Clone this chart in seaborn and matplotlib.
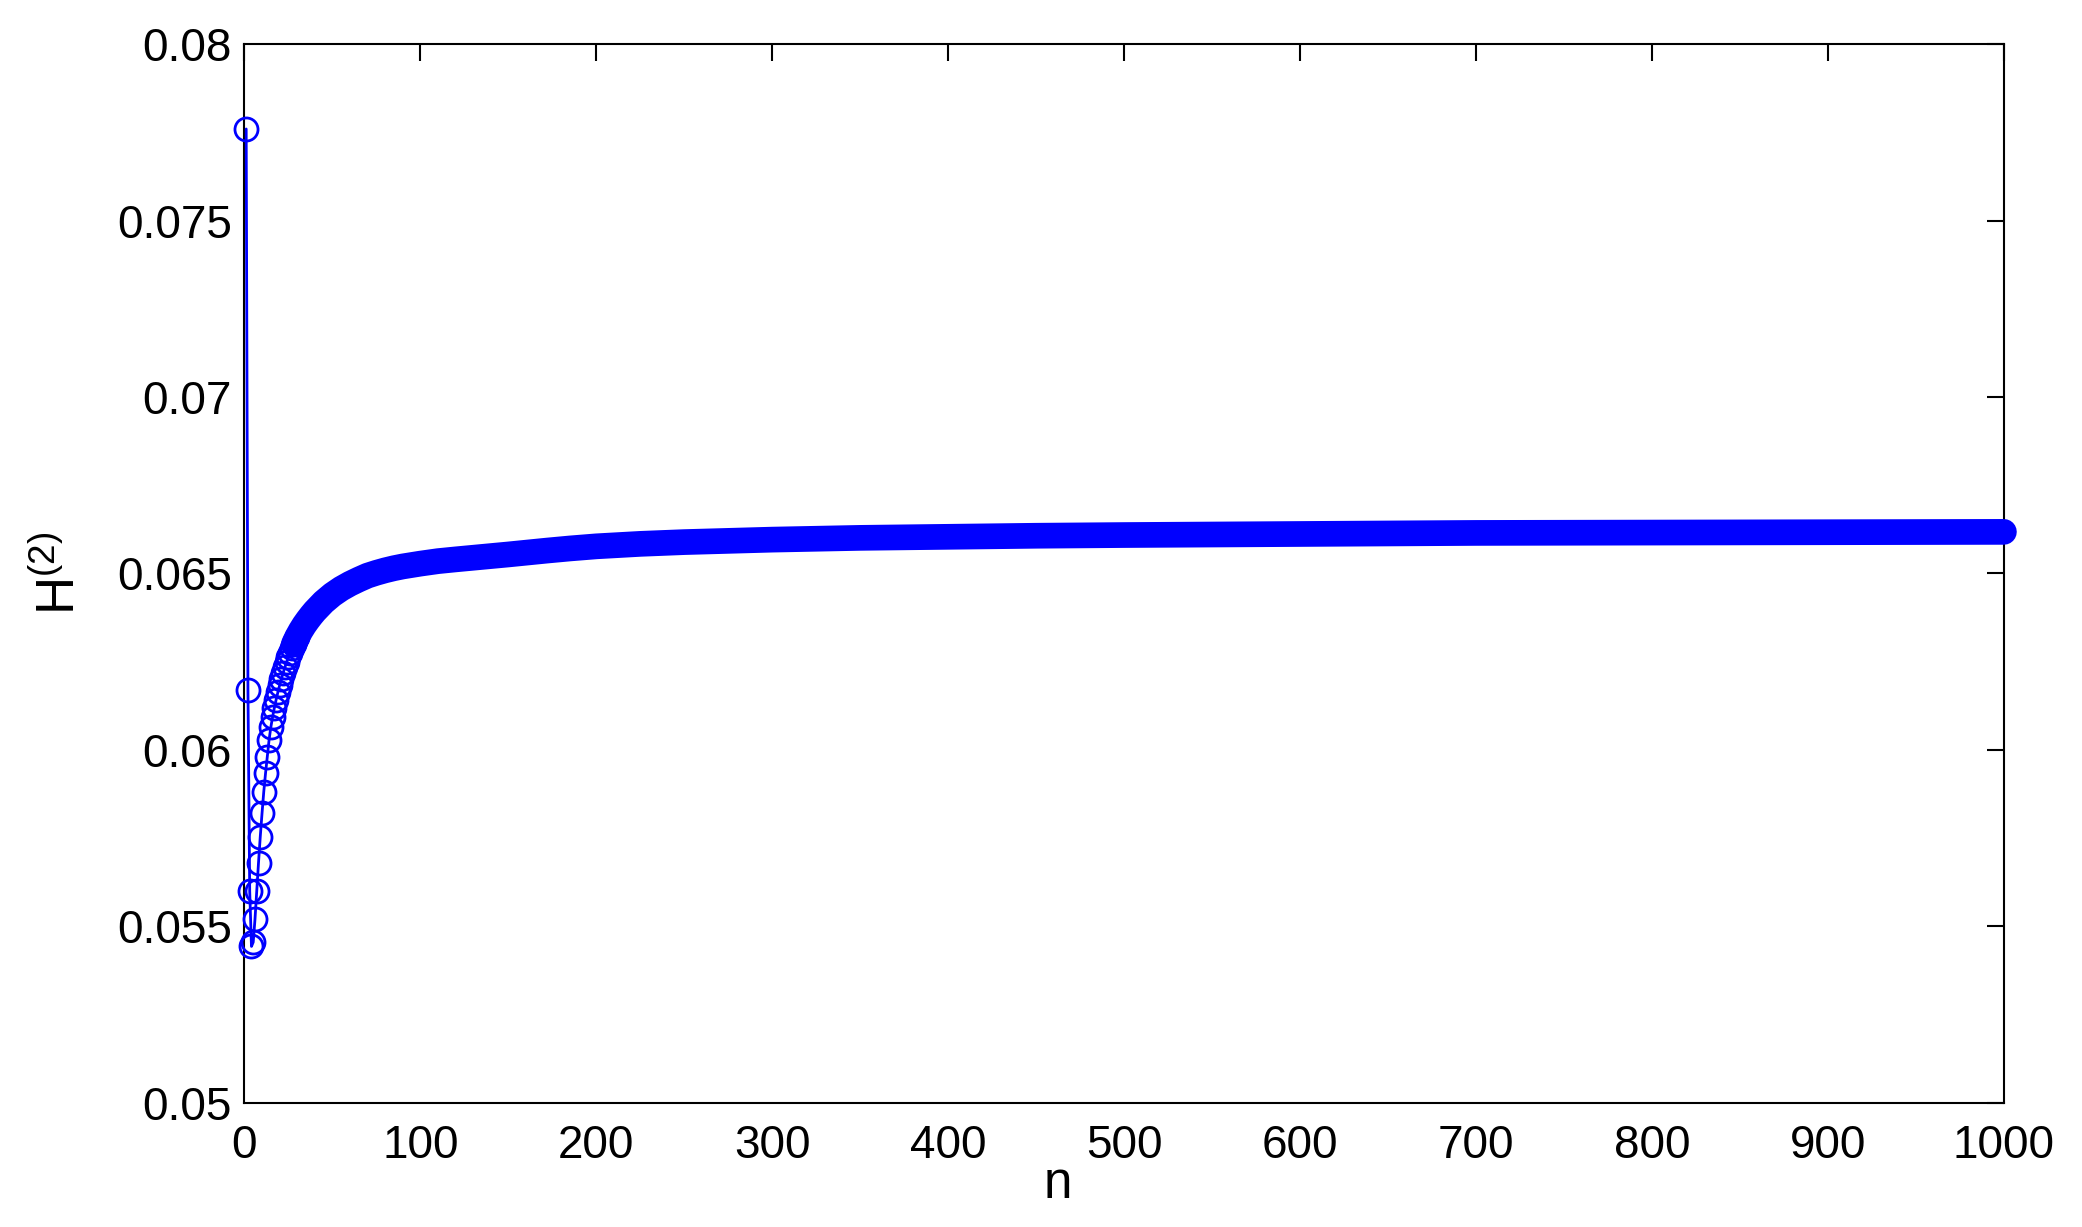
import matplotlib
matplotlib.use("Agg")
import matplotlib.pyplot as plt
import pandas as pd
import seaborn as sns

# ---- data ----
# individual points for small n (rings clearly visible)
n_head = [1, 2, 3, 4, 5, 6, 7, 8, 9, 10,
          11, 12, 13, 14, 15, 16, 17, 18, 19, 20,
          21, 22, 23, 24, 25, 26, 27, 28, 29, 30]
h_head = [0.0776, 0.0617, 0.0560, 0.05443, 0.05455, 0.0552, 0.0560, 0.0568, 0.05754, 0.05820,
          0.05882, 0.05934, 0.05981, 0.06028, 0.06064, 0.06093, 0.06119, 0.06142, 0.06163, 0.06183,
          0.06201, 0.06218, 0.06234, 0.06249, 0.06263, 0.06276, 0.06288, 0.06299, 0.06310, 0.06320]

# readings along the dense (solid) band of markers
n_tail = [28, 30, 32, 34, 36, 38, 40, 45, 50, 55, 60, 65, 70, 75, 80, 85, 90, 100, 110,
          120, 135, 150, 160, 172, 185, 200, 225, 250, 300, 350, 400, 450, 500, 600, 700,
          800, 900, 1000]
h_tail = [0.06299, 0.06320, 0.06338, 0.06354, 0.06368, 0.06381, 0.06393, 0.06419, 0.06440,
          0.06457, 0.06471, 0.06483, 0.06494, 0.06502, 0.06509, 0.06515, 0.06520, 0.06528,
          0.06535, 0.06540, 0.06547, 0.06554, 0.06559, 0.06565, 0.06571, 0.06577, 0.06584,
          0.06589, 0.06596, 0.06601, 0.06604, 0.06607, 0.06609, 0.06612, 0.06615, 0.06616,
          0.06617, 0.06618]

x_ticks = [0, 100, 200, 300, 400, 500, 600, 700, 800, 900, 1000]
x_tick_labels = ["0", "100", "200", "300", "400", "500", "600", "700", "800", "900", "1000"]
y_ticks = [0.05, 0.055, 0.06, 0.065, 0.07, 0.075, 0.08]
y_tick_labels = ["0.05", "0.055", "0.06", "0.065", "0.07", "0.075", "0.08"]

BLUE = "#0000ff"

sns.set_theme(style="white")
plt.rcParams["font.family"] = ["Liberation Sans", "DejaVu Sans"]
plt.rcParams["mathtext.default"] = "regular"

fig = plt.figure(figsize=(20.82, 12.27), dpi=100)
ax = fig.add_axes([0.1174, 0.1013, 0.8451, 0.8626])

head = pd.DataFrame({"n": n_head, "H": h_head})
tail = pd.DataFrame({"n": n_tail, "H": h_tail})

sns.lineplot(data=head, x="n", y="H", ax=ax, color=BLUE, lw=2.0,
             marker="o", ms=16.6, mfc="none", mec=BLUE, mew=2.0,
             estimator=None, sort=False, clip_on=False, zorder=3)
sns.lineplot(data=tail, x="n", y="H", ax=ax, color=BLUE, lw=18.5,
             solid_capstyle="round", solid_joinstyle="round", estimator=None,
             sort=False, clip_on=False, zorder=3)

ax.set_xlim(0, 1000)
ax.set_ylim(0.05, 0.08)
ax.set_xticks(x_ticks)
ax.set_xticklabels(x_tick_labels)
ax.set_yticks(y_ticks)
ax.set_yticklabels(y_tick_labels)

ax.tick_params(direction="in", length=12, width=1.5, top=True, right=True,
               labelsize=33, colors="black")
ax.tick_params(axis="x", pad=15)
ax.tick_params(axis="y", pad=9)
for sp in ax.spines.values():
    sp.set_color("black")
    sp.set_linewidth(1.5)
    sp.set_visible(True)

ax.set_xlabel("n", fontsize=37, color="black")
ax.set_ylabel("H$^{(2)}$", fontsize=38, color="black")
ax.xaxis.set_label_coords(0.4624, -0.054)
ax.yaxis.set_label_coords(-0.0900, 0.5)

fig.savefig("out.png", dpi=100)
